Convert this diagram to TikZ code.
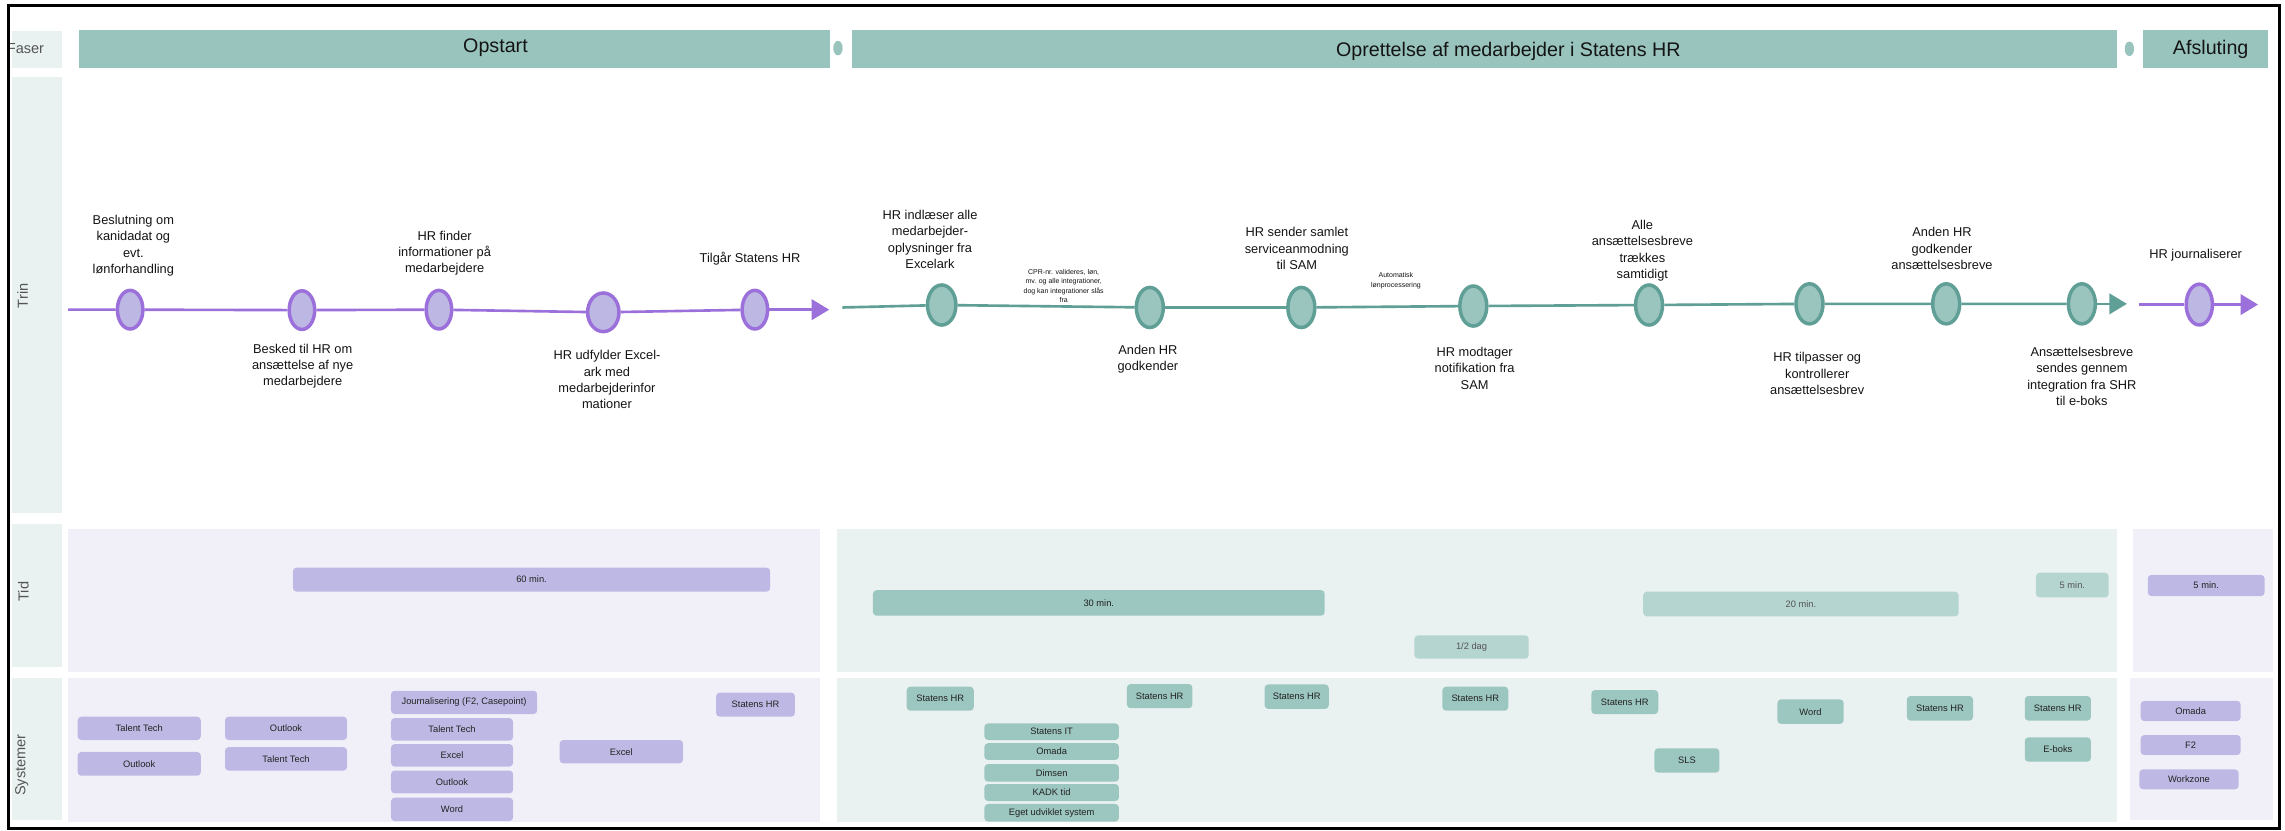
\documentclass[tikz,border=0pt]{standalone}
\usepackage{fontspec}
\setmainfont{Liberation Sans}
\usetikzlibrary{shapes.geometric,arrows.meta}
\definecolor{phasec}{HTML}{99C4BD}
\definecolor{cellc}{HTML}{E9F2F0}
\definecolor{lavbg}{HTML}{F1F0F9}
\definecolor{tealbg}{HTML}{EAF2F1}
\definecolor{pfill}{HTML}{BEB9E4}
\definecolor{tfill}{HTML}{9CC6C0}
\definecolor{tlight}{HTML}{B5D5D1}
\definecolor{pline}{HTML}{9C70DB}
\definecolor{pcfill}{HTML}{BDB8E3}
\definecolor{tline}{HTML}{5F9F95}
\definecolor{tcfill}{HTML}{9AC4BE}
\definecolor{txtc}{HTML}{141414}
\definecolor{labtxt}{HTML}{555555}
\definecolor{boxtxt}{HTML}{222222}
\newcommand\bx[7]{\node[#1, minimum width={(#5-#3)*1pt}, minimum height={(#6-#4)*1pt}] (#2) at ({(#3+#5)/2},{(#4+#6)/2}) {#7};}
\begin{document}
\begin{tikzpicture}[x=1pt,y=-1pt,
  cell/.style={fill=cellc},
  phasebar/.style={fill=phasec},
  phtext/.style={font=\fontsize{13.5}{16}\selectfont, text=txtc, inner sep=0},
  rowlab/.style={font=\fontsize{10}{12}\selectfont, text=labtxt, inner sep=0, rotate=90},
  lab/.style={font=\fontsize{8.8}{11.2}\selectfont, align=center, text=txtc, inner sep=0},
  tiny/.style={font=\fontsize{4.8}{6.5}\selectfont, align=center, text=txtc, inner sep=0},
  pcirc/.style={ellipse, draw=pline, fill=pcfill, line width=2.4pt, minimum width=17.5pt, minimum height=26.5pt, inner sep=0},
  tcirc/.style={ellipse, draw=tline, fill=tcfill, line width=2.4pt, minimum width=18.5pt, minimum height=27.5pt, inner sep=0},
  pl/.style={draw=pline, line width=1.8pt},
  tl/.style={draw=tline, line width=1.8pt},
  ptip/.style={-{Triangle[length=12pt,width=14pt]}},
  pb/.style={fill=pfill, rounded corners=2.5pt, inner sep=0, font=\fontsize{6.4}{7}\selectfont, text=boxtxt},
  tb/.style={fill=tfill, rounded corners=2.5pt, inner sep=0, font=\fontsize{6.4}{7}\selectfont, text=boxtxt},
  tlb/.style={fill=tlight, rounded corners=2.5pt, inner sep=0, font=\fontsize{6.4}{7}\selectfont, text=labtxt},
]
\useasboundingbox (0,0) rectangle (1568,570);
\fill[white] (0,0) rectangle (1568,570);

% label column
\fill[cell] (8,21) rectangle (42.3,47);
\fill[cell] (8,53) rectangle (42.3,352);
\fill[cell] (8,359.6) rectangle (42.3,457.5);
\fill[cell] (8,465) rectangle (42.3,562.7);
\node[anchor=west, font=\fontsize{10}{12}\selectfont, text=labtxt, inner sep=0] (lfaser) at (4.5,33) {Faser};
\node[rowlab] (ltrin) at (15.5,203) {Trin};
\node[rowlab] (ltid) at (16,406) {Tid};
\node[rowlab] (lsys) at (15,525) {Systemer};

% phase bars
\fill[phasebar] (54.4,20.6) rectangle (569.6,46.9);
\fill[phasec] (575,33) ellipse [x radius=3.2, y radius=5];
\fill[phasebar] (584.5,20.6) rectangle (1452.7,46.9);
\fill[phasec] (1461.2,33.5) ellipse [x radius=3.2, y radius=5];
\fill[phasebar] (1470.3,20.6) rectangle (1556,46.9);
\node[phtext] (ph1) at (340,32.4) {Opstart};
\node[phtext] (ph2) at (1035,35.3) {Oprettelse af medarbejder i Statens HR};
\node[phtext] (ph3) at (1517,33.7) {Afsluting};

% row backgrounds
\fill[lavbg] (46.7,363.2) rectangle (562.4,460.9);
\fill[tealbg] (574.5,363.2) rectangle (1452.7,460.9);
\fill[lavbg] (1463.8,363.2) rectangle (1559.8,460.9);
\fill[lavbg] (46.7,465) rectangle (562.4,563.8);
\fill[tealbg] (574.5,465) rectangle (1452.7,563.8);
\fill[lavbg] (1461.7,465) rectangle (1559.8,562.7);

% Trin: Opstart timeline
\coordinate (p0) at (46.7,212.5);
\coordinate (p1) at (569,212.5);
\node[pcirc] (c1) at (89.3,212.5) {};
\node[pcirc] (c2) at (207.2,212.8) {};
\node[pcirc] (c3) at (301.2,212.5) {};
\node[pcirc, minimum width=21.5pt] (c4) at (414,214.3) {};
\node[pcirc] (c5) at (518,212.5) {};
\draw[pl] (p0) -- (c1) -- (c2) -- (c3) -- (c4) -- (c5);
\draw[pl, ptip] (c5) -- (p1);
\node[lab] (l1) at (91.5,168.6) {Beslutning om\\kanidadat og\\evt.\\lønforhandling};
\node[lab] (l2) at (207.7,251.3) {Besked til HR om\\ansættelse af nye\\medarbejdere};
\node[lab] (l3) at (305.1,173.8) {HR finder\\informationer på\\medarbejdere};
\node[lab] (l4) at (416.5,260.5) {HR udfylder Excel-\\ark med\\medarbejderinfor\\mationer};
\node[lab] (l5) at (514.7,177.3) {Tilgår Statens HR};

% Trin: Oprettelse timeline
\coordinate (q0) at (578,211);
\coordinate (q1) at (1459.5,208.5);
\node[tcirc, minimum width=19.5pt] (d1) at (646.2,209.3) {};
\node[tcirc] (d2) at (789,211) {};
\node[tcirc] (d3) at (893,211) {};
\node[tcirc] (d4) at (1011,210) {};
\node[tcirc] (d5) at (1131.6,209.3) {};
\node[tcirc] (d6) at (1241.7,208.5) {};
\node[tcirc] (d7) at (1335.5,208.5) {};
\node[tcirc] (d8) at (1428.6,208.5) {};
\draw[tl] (q0) -- (d1) -- (d2) -- (d3) -- (d4) -- (d5) -- (d6) -- (d7) -- (d8);
\draw[tl, ptip] (d8) -- (q1);
\node[lab] (m1) at (638.2,164.3) {HR indlæser alle\\medarbejder-\\oplysninger fra\\Excelark};
\node[tiny] (m1b) at (729.9,196.2) {CPR-nr. valideres, løn,\\mv. og alle integrationer,\\dog kan integrationer slås\\fra};
\node[lab] (m2) at (787.7,246.6) {Anden HR\\godkender};
\node[lab] (m3) at (889.9,170.5) {HR sender samlet\\serviceanmodning\\til SAM};
\node[tiny] (m3b) at (957.9,192.7) {Automatisk\\lønprocessering};
\node[lab] (m4) at (1011.9,252.8) {HR modtager\\notifikation fra\\SAM};
\node[lab] (m5) at (1127,172) {Alle\\ansættelsesbreve\\trækkes\\samtidigt};
\node[lab] (m6) at (1247,256.4) {HR tilpasser og\\kontrollerer\\ansættelsesbrev};
\node[lab] (m7) at (1332.6,170.5) {Anden HR\\godkender\\ansættelsesbreve};
\node[lab] (m8) at (1428.6,258.3) {Ansættelsesbreve\\sendes gennem\\integration fra SHR\\til e-boks};

% Trin: Afsluting timeline
\coordinate (r0) at (1468,209);
\coordinate (r1) at (1549.5,209);
\node[pcirc, minimum width=18pt, minimum height=28pt] (e1) at (1509.2,209) {};
\draw[pl] (r0) -- (e1);
\draw[pl, ptip] (e1) -- (r1);
\node[lab] (n1) at (1506.7,175) {HR journaliserer};

% Tid bars
\bx{pb}{t60}{201}{389.5}{528.5}{406}{60 min.}
\bx{tb}{t30}{599}{405}{909}{422.5}{30 min.}
\bx{tlb}{thalf}{970.6}{436}{1049}{452}{1/2 dag}
\bx{tlb}{t20}{1127.6}{406}{1344}{423}{20 min.}
\bx{tlb}{t5a}{1397.1}{393}{1447}{410}{5 min.}
\bx{pb}{t5b}{1473.8}{394.5}{1554}{409}{5 min.}

% Systemer: Opstart
\bx{pb}{s1}{53.3}{491.8}{137.8}{507.8}{Talent Tech}
\bx{pb}{s2}{53.3}{516}{137.8}{532.3}{Outlook}
\bx{pb}{s3}{154.4}{491.8}{238.2}{507.8}{Outlook}
\bx{pb}{s4}{154.4}{512.7}{238.2}{528.8}{Talent Tech}
\bx{pb}{s5}{268.3}{474}{368.6}{490}{Journalisering (F2, Casepoint)}
\bx{pb}{s6}{268.3}{492.8}{352.1}{508.3}{Talent Tech}
\bx{pb}{s7}{268.3}{510.6}{352.1}{526}{Excel}
\bx{pb}{s8}{268.3}{528.8}{352.1}{544.4}{Outlook}
\bx{pb}{s9}{268.3}{547.4}{352.1}{563.4}{Word}
\bx{pb}{s10}{384}{507.8}{468.7}{523.8}{Excel}
\bx{pb}{s11}{491.4}{475.3}{545.5}{491.8}{Statens HR}

% Systemer: Oprettelse
\bx{tb}{s12}{622.2}{471.2}{668.2}{487.7}{Statens HR}
\bx{tb}{s13}{675.5}{496.4}{767.8}{507.8}{Statens IT}
\bx{tb}{s14}{675.5}{510}{767.8}{521.5}{Omada}
\bx{tb}{s15}{675.5}{524.3}{767.8}{536.4}{Dimsen}
\bx{tb}{s16}{675.5}{538}{767.8}{549.7}{KADK tid}
\bx{tb}{s17}{675.5}{551.7}{767.8}{563.8}{Eget udviklet system}
\bx{tb}{s18}{773.3}{469.4}{818.2}{486}{Statens HR}
\bx{tb}{s19}{867.8}{469.6}{911.8}{486.5}{Statens HR}
\bx{tb}{s20}{989.8}{471.2}{1035}{487.7}{Statens HR}
\bx{tb}{s21}{1092}{473.5}{1137.9}{490}{Statens HR}
\bx{tb}{s22}{1135.3}{513.5}{1179.9}{530.2}{SLS}
\bx{tb}{s23}{1219.7}{479.9}{1265.1}{496.8}{Word}
\bx{tb}{s24}{1308.5}{477.6}{1353.9}{494.5}{Statens HR}
\bx{tb}{s25}{1389.4}{477.6}{1434.8}{494.5}{Statens HR}
\bx{tb}{s26}{1389.4}{506}{1434.8}{522.7}{E-boks}

% Systemer: Afsluting
\bx{pb}{s27}{1468.9}{481}{1537.6}{494.8}{Omada}
\bx{pb}{s28}{1468.9}{504.4}{1537.6}{518.1}{F2}
\bx{pb}{s29}{1468}{528}{1536.2}{541.6}{Workzone}

% frame
\draw[line width=2pt] (6,4) rectangle (1564,568.5);
\end{tikzpicture}
\end{document}
